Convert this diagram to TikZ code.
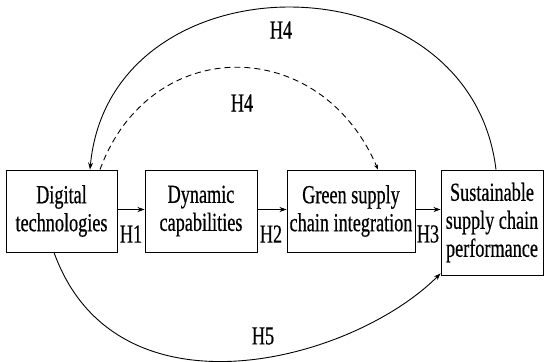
\documentclass[tikz,border=0pt]{standalone}
\usepackage{fontspec}
\setmainfont{Liberation Serif}[FakeStretch=0.7,FakeBold=0.5]
\usetikzlibrary{arrows.meta}
\begin{document}
\begin{tikzpicture}[x=1pt,y=-1pt,
  box/.style={draw, line width=0.9pt, align=center, inner sep=0pt,
    font=\fontsize{26}{28}\selectfont, minimum height=82pt},
  lbl/.style={inner sep=0pt, font=\fontsize{26}{28}\selectfont},
  arr/.style={line width=0.9pt, -{Stealth[length=7pt,width=5pt]}},
  darr/.style={line width=0.9pt, dash pattern=on 6pt off 4pt, -{Stealth[length=5pt,width=4pt]}}]
\useasboundingbox (0,0) rectangle (550,362);
\node[box, minimum width=111pt] (B1) at (61.5,211) {Digital\\technologies};
\node[box, minimum width=112pt] (B2) at (201,211) {Dynamic\\capabilities};
\node[box, minimum width=128pt] (B3) at (351,211) {Green supply\\chain integration};
\node[box, minimum width=102pt, minimum height=105pt] (B4) at (492,222.5) {Sustainable\\supply chain\\performance};

\draw[arr] ([yshift=1.5pt]B1.east) -- ([yshift=1.5pt]B2.west);
\draw[arr] ([yshift=1.5pt]B2.east) -- ([yshift=1.5pt]B3.west);
\draw[arr] ([yshift=1.5pt]B3.east) -- ([yshift=1.5pt]B3.east -| B4.west);

\node[lbl] (H1) at (131,234) {H1};
\node[lbl] (H2) at (271,234) {H2};
\node[lbl] (H3) at (428,234) {H3};

\draw[arr] ([xshift=4pt]B4.north) .. controls +(-26,-216) and +(20,-216) .. ([xshift=28.5pt]B1.north);
\node[lbl] (H4a) at (281,30) {H4};

\draw[darr] ([xshift=38.5pt]B1.north) .. controls +(50,-136) and +(-58,-136) .. ([xshift=27pt]B3.north);
\node[lbl] (H4b) at (242,103) {H4};

\draw[arr] ([xshift=-7.5pt]B1.south) .. controls +(62,172) and +(-88.5,88.5) .. ([yshift=2pt]B4.south west);
\node[lbl] (H5) at (263,336) {H5};
\end{tikzpicture}
\end{document}
